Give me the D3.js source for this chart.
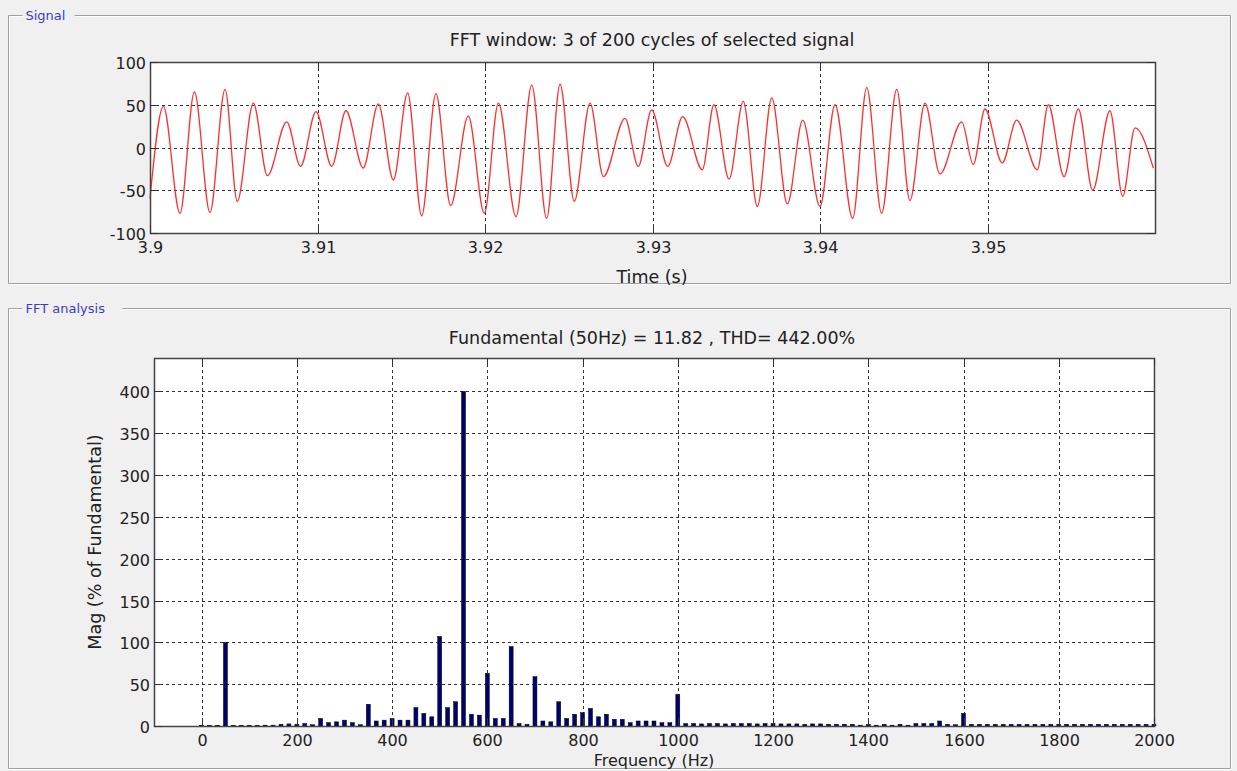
<!DOCTYPE html>
<html lang="en">
<head>
<meta charset="UTF-8">
<title>FFT analysis</title>
<script src="https://d3js.org/d3.v7.min.js"></script>
<style>
    body { margin: 0; background: #f0f0f0; }
    svg text { font-family: "DejaVu Sans", sans-serif; fill: #222; }
    .tick-label { font-size: 16px; }
    .big { font-size: 17.5px; }
    .legend { font-size: 13px; fill: #3c3cc8 !important; }
    .grid line { stroke: #333; stroke-dasharray: 3,3; stroke-width: 1; }
</style>
</head>
<body>
<script>
// signal window, time (s) of each turning point and its value
const sigTime = [3.9000, 3.90080, 3.90179, 3.90265, 3.90358, 3.90448, 3.90521, 3.90617, 3.90701, 3.90816,
    3.90899, 3.90991, 3.91085, 3.91170, 3.91273, 3.91363, 3.91453, 3.91538, 3.91622, 3.91707,
    3.91795, 3.91900, 3.91996, 3.92080, 3.92185, 3.92279, 3.92368, 3.92448, 3.92533, 3.92627,
    3.92707, 3.92836, 3.92915, 3.92995, 3.93091, 3.93180, 3.93297, 3.93367, 3.93457, 3.93542,
    3.93626, 3.93712, 3.93805, 3.93897, 3.94000, 3.94090, 3.94195, 3.94279, 3.94368, 3.94458,
    3.94537, 3.94627, 3.94716, 3.94846, 3.94915, 3.94985, 3.95088, 3.95174, 3.95297, 3.95363,
    3.95457, 3.95542, 3.95628, 3.95731, 3.95807, 3.95881, 3.95990];
const sigValue = [-60, 48, -77, 65, -76, 68, -63, 52, -33, 30,
    -22, 42, -22, 43, -24, 51, -38, 64, -80, 63,
    -68, 37, -77, 52, -81, 73, -83, 74, -63, 52,
    -34, 34, -22, 44, -22, 36, -26, 50, -37, 54,
    -69, 58, -66, 32, -69, 50, -83, 70, -77, 68,
    -62, 52, -31, 30, -20, 45, -18, 32, -26, 50,
    -34, 45, -50, 43, -57, 23, -24];
const sigYTicks = [-100, -50, 0, 50, 100];
const sigXTicks = [3.9, 3.91, 3.92, 3.93, 3.94, 3.95];

// FFT magnitude (% of fundamental), one value per bin, bin width 50/3 Hz, 0..2000 Hz
const binWidth = 50 / 3;
const fftMag = [
    1, 0.8, 0.8, 100, 0.8, 0.8, 0.8, 0.8, 1, 1,
    2, 2.5, 2, 3, 1.5, 9, 4, 5, 7, 4,
    1.5, 26, 6, 7, 9, 7, 7, 22, 15, 11,
    107, 22, 29, 400, 14, 13, 63, 9, 9, 95,
    3, 2, 59, 6, 5, 29, 9, 14, 16, 21,
    11, 14, 8, 8, 4, 6, 6, 6, 4, 4,
    38, 3, 3, 2.5, 3, 3, 2.5, 3, 3, 3,
    2.5, 3, 3, 2.5, 2.5, 2.5, 2, 2.5, 2.5, 2,
    2, 2, 2, 1, 2, 1, 2, 1, 2, 1,
    3, 3, 3, 6, 2, 1.5, 15, 2, 2, 2,
    2, 2, 2, 2, 2, 2, 2, 2, 2, 2,
    2, 2, 2, 2, 2, 2, 2, 2, 2, 2, 2];
const fftXTicks = [0, 200, 400, 600, 800, 1000, 1200, 1400, 1600, 1800, 2000];
const fftYTicks = [0, 50, 100, 150, 200, 250, 300, 350, 400];

const width = 1237, height = 771;
const svg = d3.select("body").append("svg")
    .attr("width", width)
    .attr("height", height);

// plain hyphen minus like the original, not the unicode one d3.format gives
const plain = d => String(d);

// etched group box with a label in the top border
function groupBox(x, y, w, h, label, gapW) {
    const pathFor = (dx, dy) => `M${x + 14 + dx},${y + dy} L${x + dx},${y + dy} L${x + dx},${y + h + dy} L${x + w + dx},${y + h + dy} L${x + w + dx},${y + dy} L${x + 14 + gapW + dx},${y + dy}`;
    svg.append("path").attr("d", pathFor(1, 1)).attr("fill", "none").attr("stroke", "#fff");
    svg.append("path").attr("d", pathFor(0, 0)).attr("fill", "none").attr("stroke", "#a0a0a0");
    svg.append("text").attr("class", "legend")
        .attr("x", x + 17).attr("y", y + 4.5)
        .text(label);
}
groupBox(8.5, 15.5, 1222, 268, "Signal", 52);
groupBox(8.5, 308.5, 1222, 460, "FFT analysis", 100);

// axes frame + grid + inward ticks, MATLAB style
function frame(g, x, y, xTicks, yTicks, fmtX, fmtY) {
    const [x0, x1] = x.range(), [y0, y1] = y.range();
    g.append("rect").attr("x", x0).attr("y", y1).attr("width", x1 - x0).attr("height", y0 - y1).attr("fill", "#fff");
    const grid = g.append("g").attr("class", "grid");
    grid.selectAll(".gx").data(xTicks).join("line")
        .attr("x1", d => Math.round(x(d)) + 0.5).attr("x2", d => Math.round(x(d)) + 0.5)
        .attr("y1", y1).attr("y2", y0);
    grid.selectAll(".gy").data(yTicks).join("line")
        .attr("class", "gy")
        .attr("x1", x0).attr("x2", x1)
        .attr("y1", d => Math.round(y(d)) + 0.5).attr("y2", d => Math.round(y(d)) + 0.5);
    return () => {
        const axes = g.append("g");
        axes.append("rect").attr("x", x0 + 0.5).attr("y", y1 + 0.5).attr("width", x1 - x0).attr("height", y0 - y1)
            .attr("fill", "none").attr("stroke", "#444").attr("stroke-width", 1.5);
        xTicks.forEach(t => {
            const px = Math.round(x(t)) + 0.5;
            axes.append("line").attr("x1", px).attr("x2", px).attr("y1", y0).attr("y2", y0 - 8).attr("stroke", "#333");
            axes.append("line").attr("x1", px).attr("x2", px).attr("y1", y1).attr("y2", y1 + 8).attr("stroke", "#333");
            axes.append("text").attr("class", "tick-label").attr("x", px).attr("y", y0 + 20)
                .attr("text-anchor", "middle").text(fmtX(t));
        });
        yTicks.forEach(t => {
            const py = Math.round(y(t)) + 0.5;
            axes.append("line").attr("x1", x0).attr("x2", x0 + 8).attr("y1", py).attr("y2", py).attr("stroke", "#333");
            axes.append("line").attr("x1", x1).attr("x2", x1 - 8).attr("y1", py).attr("y2", py).attr("stroke", "#333");
            axes.append("text").attr("class", "tick-label").attr("x", x0 - 4).attr("y", py + 6)
                .attr("text-anchor", "end").text(fmtY(t));
        });
    };
}

// ---- signal plot
const xSig = d3.scaleLinear().domain([3.9, 3.96]).range([150, 1155]);
const ySig = d3.scaleLinear().domain([-100, 100]).range([233, 62]);
const gSig = svg.append("g");
const finishSig = frame(gSig, xSig, ySig, sigXTicks, sigYTicks, plain, plain);
const sigPoints = sigTime.map((t, i) => [t, sigValue[i]]);
gSig.append("path")
    .datum(sigPoints)
    .attr("fill", "none")
    .attr("stroke", "#ff3030")
    .attr("stroke-width", 1.3)
    .attr("d", d3.line().x(d => xSig(d[0])).y(d => ySig(d[1])).curve(d3.curveMonotoneX));
finishSig();
svg.append("text").attr("class", "big").attr("x", 652).attr("y", 46).attr("text-anchor", "middle")
    .text("FFT window: 3 of 200 cycles of selected signal");
svg.append("text").attr("class", "big").attr("x", 652).attr("y", 283).attr("text-anchor", "middle")
    .text("Time (s)");

// ---- FFT plot
const xFft = d3.scaleLinear().domain([-100, 2000]).range([154, 1154]);
const yFft = d3.scaleLinear().domain([0, 440]).range([726, 358]);
const gFft = svg.append("g");
const finishFft = frame(gFft, xFft, yFft, fftXTicks, fftYTicks, plain, plain);
const barW = (xFft(binWidth) - xFft(0)) * 0.5;
gFft.selectAll(".bar").data(fftMag).join("rect")
    .attr("class", "bar")
    .attr("x", (d, i) => xFft(i * binWidth) - barW / 2)
    .attr("y", d => yFft(d))
    .attr("width", barW)
    .attr("height", d => yFft(0) - yFft(d))
    .attr("fill", "#000070")
    .attr("stroke", "#000")
    .attr("stroke-width", 0.5);
finishFft();
svg.append("text").attr("class", "big").attr("x", 652).attr("y", 344).attr("text-anchor", "middle")
    .text("Fundamental (50Hz) = 11.82 , THD= 442.00%");
svg.append("text").attr("x", 654).attr("y", 766).attr("text-anchor", "middle")
    .style("font-size", "16px")
    .text("Frequency (Hz)");
svg.append("text").attr("class", "big")
    .attr("transform", "translate(101,542) rotate(-90)")
    .attr("text-anchor", "middle")
    .text("Mag (% of Fundamental)");
</script>
</body>
</html>
